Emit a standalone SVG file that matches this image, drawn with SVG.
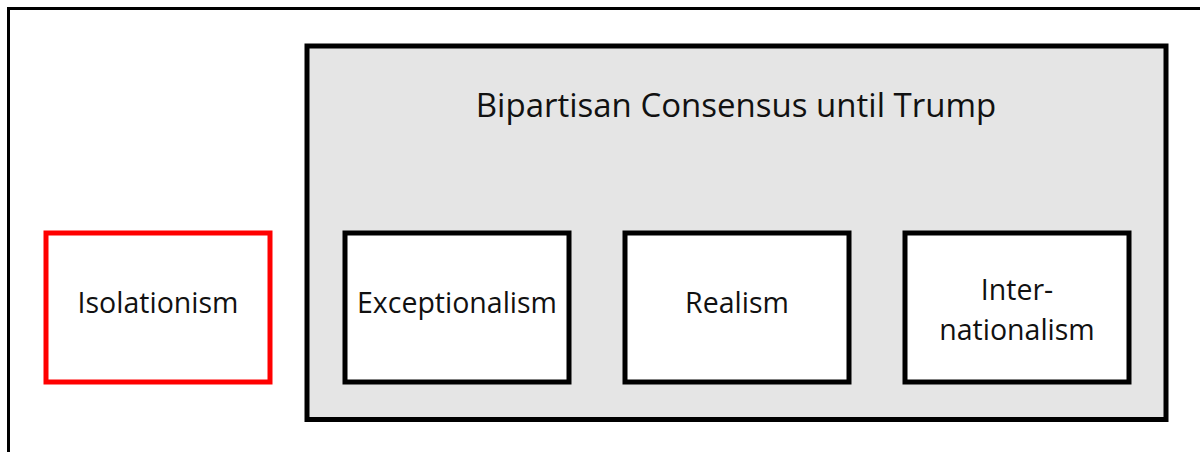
<svg xmlns="http://www.w3.org/2000/svg" width="1200" height="452" viewBox="0 0 1200 452">
<style>
text{font-family:"Open Sans","Liberation Sans",sans-serif;fill:#111;text-anchor:middle}
.lbl{font-size:28.5px}
.title{font-size:33px}
.box{fill:#fff;stroke:#000;stroke-width:5}
</style>
<rect x="0" y="0" width="1200" height="452" fill="#fff"/>
<g id="frame"><path d="M8.5,452 V8.5 H1200" fill="none" stroke="#000" stroke-width="3"/></g>
<g id="consensus">
<rect x="307" y="46" width="859" height="373.5" fill="#e5e5e5" stroke="#000" stroke-width="5"/>
<text class="title" x="736" y="116.5">Bipartisan Consensus until Trump</text>
</g>
<g id="isolationism">
<rect x="46" y="233" width="224" height="149" fill="#fff" stroke="#ff0000" stroke-width="5"/>
<text class="lbl" x="158" y="313">Isolationism</text>
</g>
<g id="exceptionalism">
<rect class="box" x="345" y="233" width="224" height="149"/>
<text class="lbl" x="457" y="313">Exceptionalism</text>
</g>
<g id="realism">
<rect class="box" x="625" y="233" width="224" height="149"/>
<text class="lbl" x="737" y="313">Realism</text>
</g>
<g id="internationalism">
<rect class="box" x="905" y="233" width="224" height="149"/>
<text class="lbl" x="1017" y="300">Inter-</text>
<text class="lbl" x="1017" y="340">nationalism</text>
</g>
<g id="connectors"></g>
</svg>
